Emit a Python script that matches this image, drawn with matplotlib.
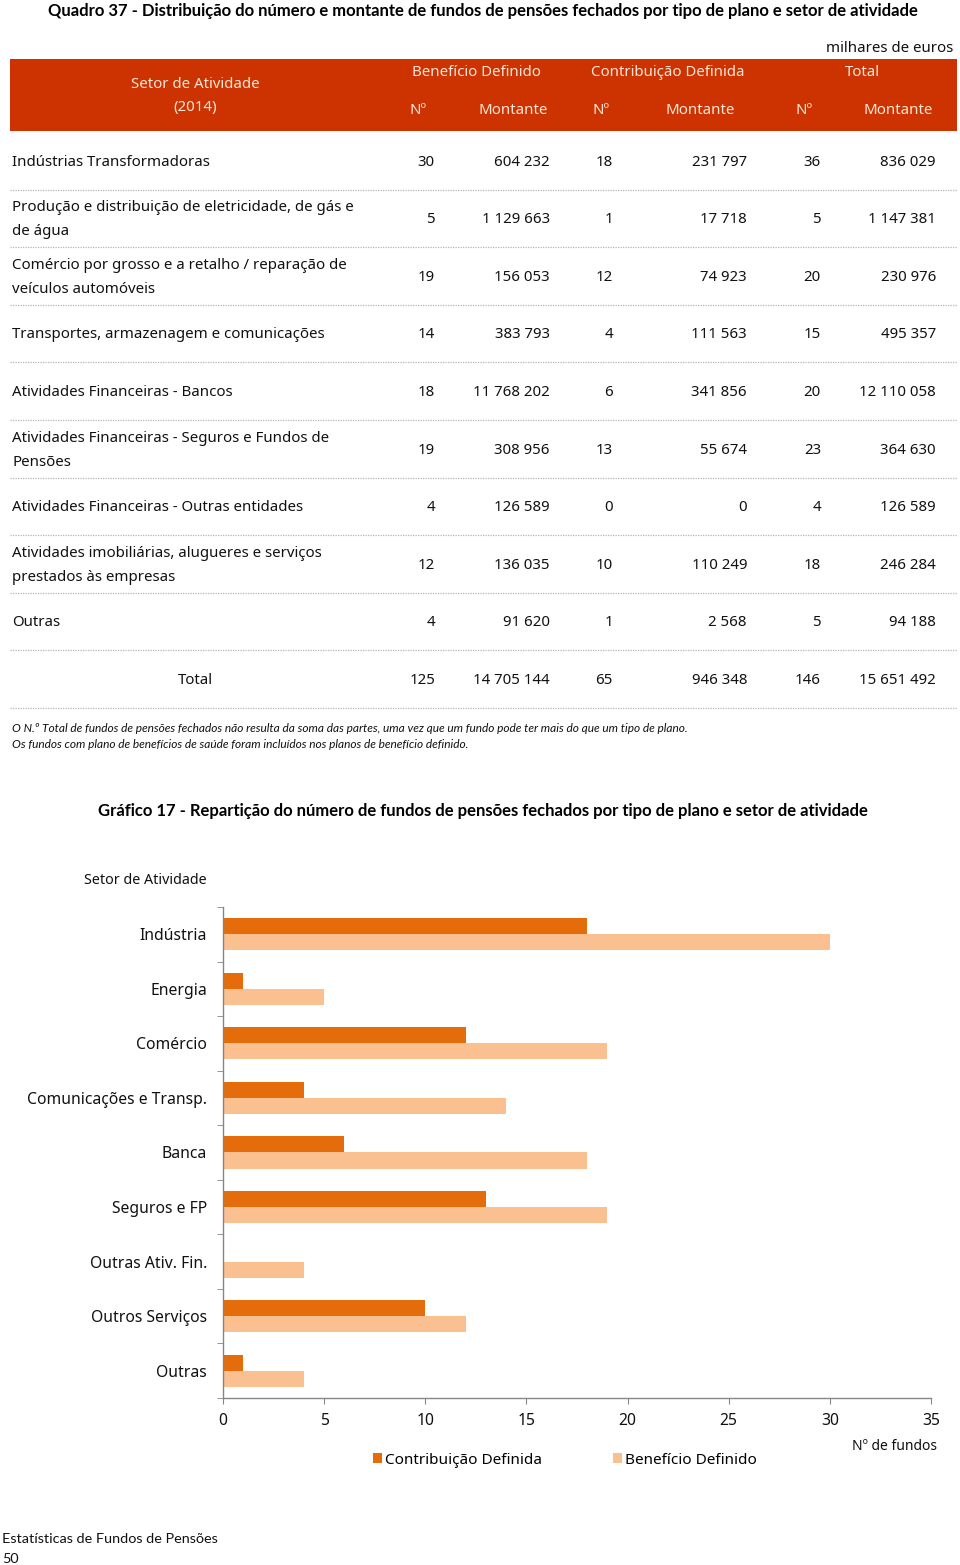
import numpy as np
import matplotlib.pyplot as plt
from matplotlib.patches import Rectangle

# Quadro 37 data
sectors = [
    "Indústrias Transformadoras",
    "Produção e distribuição de eletricidade, de gás e\nde água",
    "Comércio por grosso e a retalho / reparação de\nveículos automóveis",
    "Transportes, armazenagem e comunicações",
    "Atividades Financeiras - Bancos",
    "Atividades Financeiras - Seguros e Fundos de\nPensões",
    "Atividades Financeiras - Outras entidades",
    "Atividades imobiliárias, alugueres e serviços\nprestados às empresas",
    "Outras",
]
bd_n = [30, 5, 19, 14, 18, 19, 4, 12, 4]
bd_m = [604232, 1129663, 156053, 383793, 11768202, 308956, 126589, 136035, 91620]
cd_n = [18, 1, 12, 4, 6, 13, 0, 10, 1]
cd_m = [231797, 17718, 74923, 111563, 341856, 55674, 0, 110249, 2568]
tot_n = [36, 5, 20, 15, 20, 23, 4, 18, 5]
tot_m = [836029, 1147381, 230976, 495357, 12110058, 364630, 126589, 246284, 94188]
totals = [125, 14705144, 65, 946348, 146, 15651492]

# Gráfico 17 labels
short_labels = ["Indústria", "Energia", "Comércio", "Comunicações e Transp.", "Banca",
                "Seguros e FP", "Outras Ativ. Fin.", "Outros Serviços", "Outras"]

RED = '#cc3300'
CD_COL = '#e46c0a'
BD_COL = '#fac090'
HDR_TXT = '#fbe6d8'
TXT = '#111111'
BODY = 'Noto Sans'
TITLE = 'Lato'


def fmt(v):
    return f"{v:,}".replace(",", " ")


fig = plt.figure(figsize=(9.6, 15.65), dpi=100)
pg = fig.add_axes([0, 0, 1, 1])
pg.set_xlim(0, 960)
pg.set_ylim(1565, 0)
pg.axis('off')

# --- table ---
pg.text(483, 11, "Quadro 37 - Distribuição do número e montante de fundos de pensões fechados por tipo de plano e setor de atividade",
        ha='center', va='center', fontsize=12, fontweight='bold', family=TITLE, color='black')
pg.text(953, 49, "milhares de euros", ha='right', va='center', fontsize=10.8, family=BODY, color=TXT)
pg.add_patch(Rectangle((10, 59), 947, 72, color=RED, lw=0))
hk = dict(va='center', fontsize=10.8, family=BODY, color=HDR_TXT)
pg.text(195, 85, "Setor de Atividade", ha='center', **hk)
pg.text(195, 108, "(2014)", ha='center', **hk)
for xc, t in [(476, "Benefício Definido"), (668, "Contribuição Definida"), (862, "Total")]:
    pg.text(xc, 73, t, ha='center', **hk)
for xc, t in [(418, "Nº"), (513, "Montante"), (601, "Nº"), (700, "Montante"), (804, "Nº"), (898, "Montante")]:
    pg.text(xc, 110, t, ha='center', **hk)

col_right = [435, 550, 613, 747, 821, 936]
bk = dict(va='center', fontsize=10.8, family=BODY, color=TXT)
y0, step = 162, 57.6
for i, name in enumerate(sectors):
    yc = y0 + i * step
    lines = name.split("\n")
    if len(lines) == 1:
        pg.text(12, yc, name, ha='left', **bk)
    else:
        pg.text(12, yc - 12, lines[0], ha='left', **bk)
        pg.text(12, yc + 12, lines[1], ha='left', **bk)
    vals = [bd_n[i], fmt(bd_m[i]), cd_n[i], fmt(cd_m[i]), tot_n[i], fmt(tot_m[i])]
    for xr, v in zip(col_right, vals):
        pg.text(xr, yc, str(v), ha='right', **bk)
    pg.plot([10, 957], [yc + 27.5, yc + 27.5], color='#b5b5b5', lw=0.9, ls=(0, (1, 1)))

yc = y0 + len(sectors) * step
pg.text(195, yc, "Total", ha='center', **bk)
for xr, v in zip(col_right, [totals[0], fmt(totals[1]), totals[2], fmt(totals[3]), totals[4], fmt(totals[5])]):
    pg.text(xr, yc, str(v), ha='right', **bk)
pg.plot([10, 957], [yc + 27.5, yc + 27.5], color='#b5b5b5', lw=0.9, ls=(0, (1, 1)))

nk = dict(ha='left', va='center', fontsize=8.6, family=TITLE, style='italic', color=TXT)
pg.text(12, 728, "O N.º Total de fundos de pensões fechados não resulta da soma das partes, uma vez que um fundo pode ter mais do que um tipo de plano.", **nk)
pg.text(12, 744, "Os fundos com plano de benefícios de saúde foram incluídos nos planos de benefício definido.", **nk)

# --- chart ---
pg.text(483, 811, "Gráfico 17 - Repartição do número de fundos de pensões fechados por tipo de plano e setor de atividade",
        ha='center', va='center', fontsize=12, fontweight='bold', family=TITLE, color='black')
pg.text(84, 880, "Setor de Atividade", ha='left', va='center', fontsize=10.3, family=BODY, color=TXT)

ax = fig.add_axes([223 / 960, 1 - 1398 / 1565, 708 / 960, 491 / 1565])
y = np.arange(len(short_labels))
h = 0.295
ax.barh(y - h / 2, cd_n, height=h, color=CD_COL, label='Contribuição Definida')
ax.barh(y + h / 2, bd_n, height=h, color=BD_COL, label='Benefício Definido')
ax.set_xlim(0, 35)
ax.set_ylim(len(short_labels) - 0.5, -0.5)
ax.set_xticks(range(0, 36, 5))
ax.set_yticks(y, short_labels)
ax.set_yticks(np.arange(-0.5, len(short_labels)), minor=True)
ax.tick_params(axis='y', which='major', length=0, pad=11.5, labelsize=11.3, labelcolor=TXT)
ax.tick_params(axis='y', which='minor', length=4, color='#868686', direction='out')
ax.tick_params(axis='x', length=4, color='#868686', direction='out', pad=7, labelsize=11.3, labelcolor=TXT)
for lab in ax.get_xticklabels() + ax.get_yticklabels():
    lab.set_family(BODY)
for s in ['top', 'right']:
    ax.spines[s].set_visible(False)
for s in ['left', 'bottom']:
    ax.spines[s].set_color('#868686')
    ax.spines[s].set_linewidth(1)

pg.text(937, 1447, "Nº de fundos", ha='right', va='center', fontsize=10, family=BODY, color=TXT)
leg = ax.legend(loc='center', bbox_to_anchor=(565 / 960, 1 - 1460 / 1565), bbox_transform=fig.transFigure,
                ncol=2, frameon=False, handlelength=0.6, handleheight=0.6, handletextpad=0.2,
                columnspacing=4.6, prop={'family': BODY, 'size': 11})

pg.text(2, 1539, "Estatísticas de Fundos de Pensões", ha='left', va='center', fontsize=10.4, family=TITLE, color=TXT)
pg.text(2, 1559, "50", ha='left', va='center', fontsize=10.4, family=TITLE, color=TXT)

fig.savefig('out.png', dpi=100, facecolor='white')
